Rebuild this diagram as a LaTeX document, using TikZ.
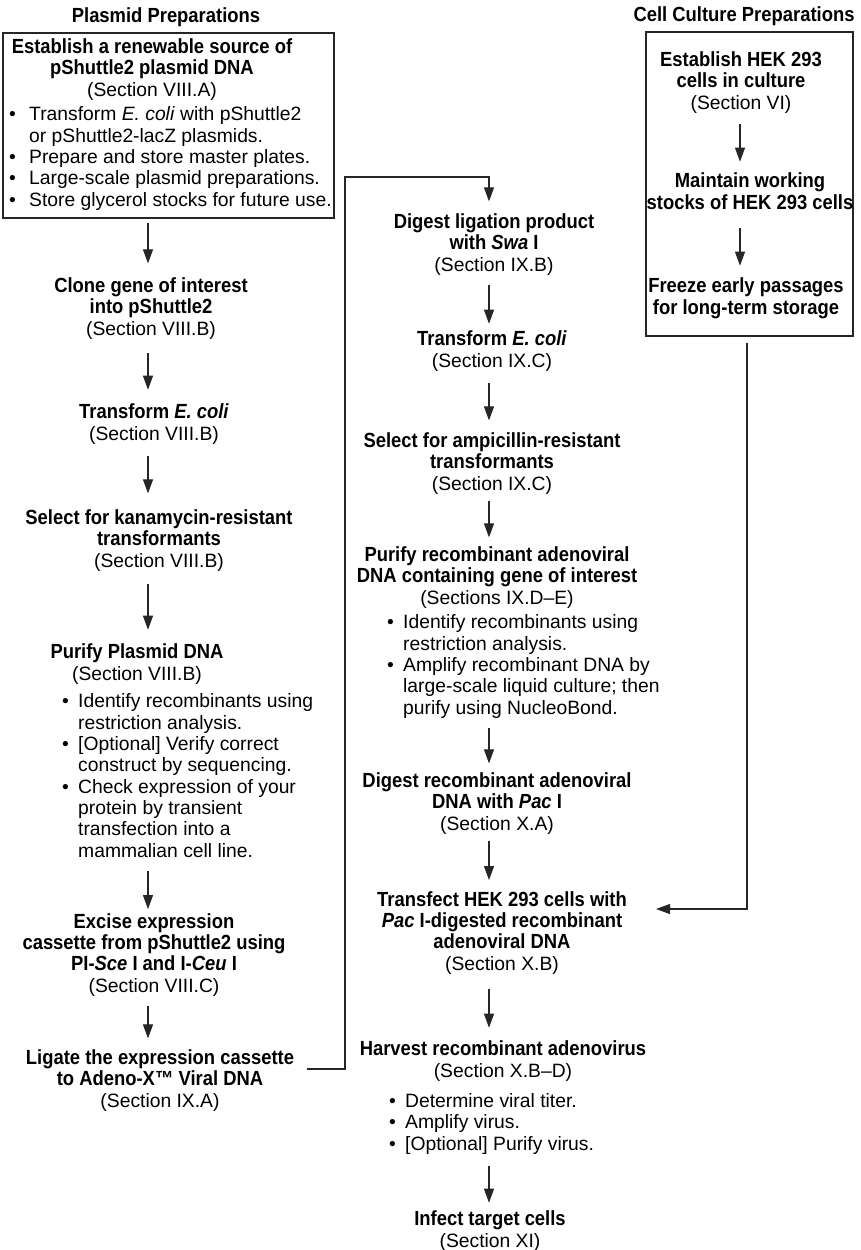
\documentclass[tikz,border=0pt]{standalone}
\usepackage{fontspec}
\setmainfont{Liberation Sans}[BoldFeatures={Scale=1.06,FakeStretch=0.9},BoldItalicFeatures={Scale=1.06,FakeStretch=0.9}]
\usetikzlibrary{arrows.meta}
\newcommand{\fs}{\fontsize{19.3}{21.3}\selectfont}
\newcommand{\bul}{\makebox[16pt][l]{\textbullet}}
\newcommand{\ind}{\makebox[16pt][l]{}}
\newcommand{\bulA}{\makebox[20pt][l]{\textbullet}}
\newcommand{\indA}{\makebox[20pt][l]{}}
\begin{document}
\begin{tikzpicture}[x=1pt,y=-1pt,
  every node/.style={inner sep=0pt,font=\fs},
  stage/.style={align=center,anchor=base},
  lst/.style={align=left,anchor=base west},
  hdr/.style={anchor=base,font=\fs\bfseries},
  frame/.style={draw=black!85,line width=1.3pt},
  arr/.style={draw=black!85,line width=1.1pt,-{Triangle[width=10pt,length=14pt]}}]
\useasboundingbox (0,0) rectangle (860,1250);
\coordinate (colL) at (148,0);
\coordinate (colM) at (489,0);
\coordinate (colR) at (740,0);
% titles
\node[hdr] (tPl) at (166,23) {Plasmid Preparations};
\node[hdr] (tCc) at (744,21) {Cell Culture Preparations};
% left column (positions are last-line baselines)
\node[frame,minimum width=331pt,minimum height=185pt] (box1) at (168.5,125.5) {};
\node[stage] (estab) at (152,96) {\textbf{Establish a renewable source of}\\\textbf{pShuttle2 plasmid DNA}\\(Section VIII.A)};
\node[lst] (estabL) at (9,206) {\bulA Transform \textit{E. coli} with pShuttle2\\\indA or pShuttle2-lacZ plasmids.\\\bulA Prepare and store master plates.\\\bulA Large-scale plasmid preparations.\\\bulA Store glycerol stocks for future use.};
\node[stage] (clone) at (151,335) {\textbf{Clone gene of interest}\\\textbf{into pShuttle2}\\(Section VIII.B)};
\node[stage] (transL) at (154,440) {\textbf{Transform \textit{E. coli}}\\(Section VIII.B)};
\node[stage] (selL) at (159,567) {\textbf{Select for kanamycin-resistant}\\\textbf{transformants}\\(Section VIII.B)};
\node[stage] (purL) at (137,680) {\textbf{Purify Plasmid DNA}\\(Section VIII.B)};
\node[lst] (purLb) at (62,857) {\bul Identify recombinants using\\\ind restriction analysis.\\\bul [Optional] Verify correct\\\ind construct by sequencing.\\\bul Check expression of your\\\ind protein by transient\\\ind transfection into a\\\ind mammalian cell line.};
\node[stage] (excise) at (154,992) {\textbf{Excise expression}\\\textbf{cassette from pShuttle2 using}\\\textbf{PI-\textit{Sce} I and I-\textit{Ceu} I}\\(Section VIII.C)};
\node[stage] (ligate) at (160,1107) {\textbf{Ligate the expression cassette}\\\textbf{to Adeno-X™ Viral DNA}\\(Section IX.A)};
% middle column
\node[stage] (digL) at (494,271) {\textbf{Digest ligation product}\\\textbf{with \textit{Swa} I}\\(Section IX.B)};
\node[stage] (transM) at (492,367) {\textbf{Transform \textit{E. coli}}\\(Section IX.C)};
\node[stage] (selM) at (492,490) {\textbf{Select for ampicillin-resistant}\\\textbf{transformants}\\(Section IX.C)};
\node[stage] (purM) at (497,604) {\textbf{Purify recombinant adenoviral}\\\textbf{DNA containing gene of interest}\\(Sections IX.D--E)};
\node[lst] (purMb) at (387,714) {\bul Identify recombinants using\\\ind restriction analysis.\\\bul Amplify recombinant DNA by\\\ind large-scale liquid culture; then\\\ind purify using NucleoBond.};
\node[stage] (digR) at (497,830) {\textbf{Digest recombinant adenoviral}\\\textbf{DNA with \textit{Pac} I}\\(Section X.A)};
\node[stage] (transf) at (502,970) {\textbf{Transfect HEK 293 cells with}\\\textbf{\textit{Pac} I-digested recombinant}\\\textbf{adenoviral DNA}\\(Section X.B)};
\node[stage] (harv) at (503,1077) {\textbf{Harvest recombinant adenovirus}\\(Section X.B--D)};
\node[lst] (harvb) at (389,1150) {\bul Determine viral titer.\\\bul Amplify virus.\\\bul [Optional] Purify virus.};
\node[stage] (infect) at (490,1247) {\textbf{Infect target cells}\\(Section XI)};
% right column
\node[frame,minimum width=207pt,minimum height=304pt] (box2) at (749.5,184) {};
\node[stage] (estHEK) at (741,109) {\textbf{Establish HEK 293}\\\textbf{cells in culture}\\(Section VI)};
\node[stage] (maint) at (750,209) {\textbf{Maintain working}\\\textbf{stocks of HEK 293 cells}};
\node[stage] (freeze) at (746,314) {\textbf{Freeze early passages}\\\textbf{for long-term storage}};
% connectors left
\draw[arr,shorten <=4pt,shorten >=14pt] (box1.south -| colL) -- (clone.north -| colL);
\draw[arr,shorten <=14pt,shorten >=14pt] (clone.south -| colL) -- (transL.north -| colL);
\draw[arr,shorten <=12pt,shorten >=16pt] (transL.south -| colL) -- (selL.north -| colL);
\draw[arr,shorten <=13pt,shorten >=14pt] (selL.south -| colL) -- (purL.north -| colL);
\draw[arr,shorten <=14pt,shorten >=4pt] (purLb.south -| colL) -- (excise.north -| colL);
\draw[arr,shorten <=10pt,shorten >=11pt] (excise.south -| colL) -- (ligate.north -| colL);
% ligate to middle column
\coordinate (ligOut) at (345,1069);
\coordinate (ligTop) at (345,177);
\draw[arr,shorten <=13pt,shorten >=12pt] (ligate.east |- ligOut) -- (ligOut) -- (ligTop) -| (digL.north -| colM);
% connectors middle
\draw[arr,shorten <=10pt,shorten >=7pt] (digL.south -| colM) -- (transM.north -| colM);
\draw[arr,shorten <=12pt,shorten >=12pt] (transM.south -| colM) -- (selM.north -| colM);
\draw[arr,shorten <=7pt,shorten >=9pt] (selM.south -| colM) -- (purM.north -| colM);
\draw[arr,shorten <=10pt,shorten >=9pt] (purMb.south -| colM) -- (digR.north -| colM);
\draw[arr,shorten <=7pt,shorten >=11pt] (digR.south -| colM) -- (transf.north -| colM);
\draw[arr,shorten <=15pt,shorten >=13pt] (transf.south -| colM) -- (harv.north -| colM);
\draw[arr,shorten <=12pt,shorten >=8pt] (harvb.south -| colM) -- (infect.north -| colM);
% connectors right
\draw[arr,shorten <=11pt,shorten >=11pt] (estHEK.south -| colR) -- (maint.north -| colR);
\draw[arr,shorten <=19pt,shorten >=12pt] (maint.south -| colR) -- (freeze.north -| colR);
\coordinate (jR) at (747,909);
\draw[arr,shorten <=6pt,shorten >=29pt] (box2.south -| jR) -- (jR) -- (jR -| transf.east);
\end{tikzpicture}
\end{document}
